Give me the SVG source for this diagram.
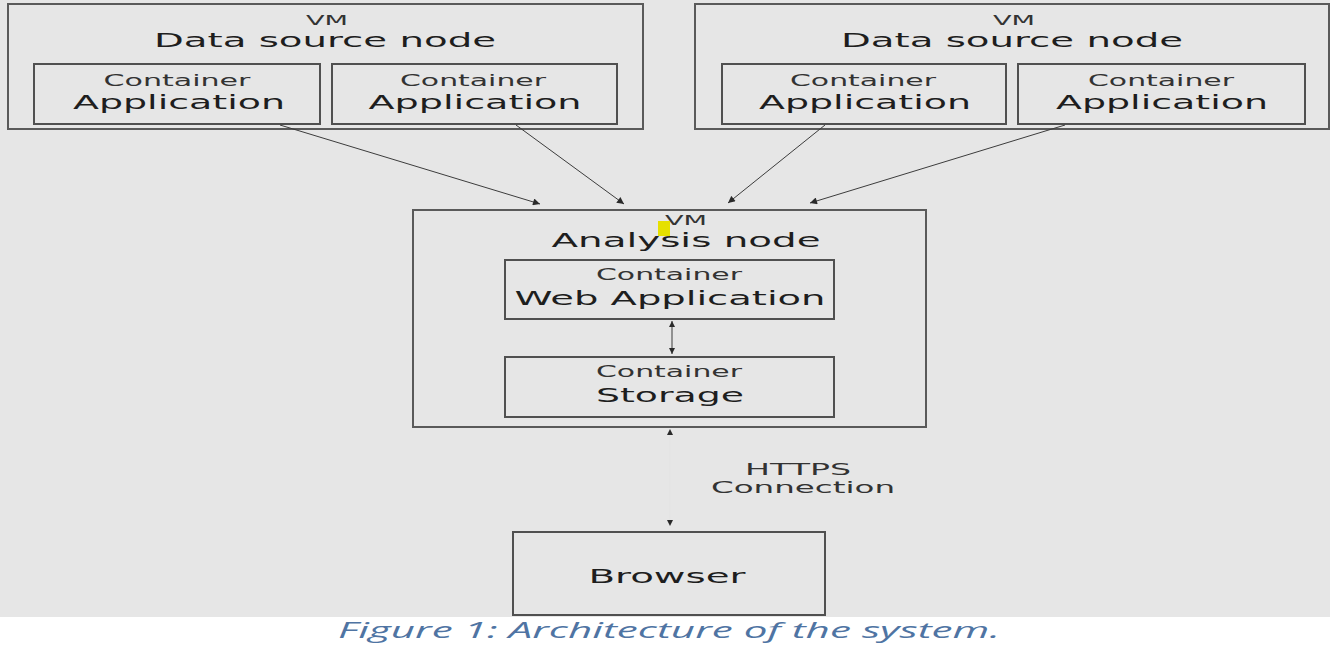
<svg xmlns="http://www.w3.org/2000/svg" width="1336" height="650" viewBox="0 0 1336 650">
<style>
.bg{fill:#e6e6e6}
.vm{fill:#e6e6e6;stroke:#5a5a5a;stroke-width:2}
.ct{fill:#e6e6e6;stroke:#505050;stroke-width:2}
text{font-family:"DejaVu Sans","Liberation Sans",sans-serif;fill:#1e1e1e;text-anchor:middle}
.s{font-size:15px;fill:#333}
.v{font-size:14px;fill:#333}
.m{font-size:20px}
.l{font-size:20px}
.conn{stroke:#3c3c3c;stroke-width:1;fill:none}
.cap{font-family:"Open Sans","Liberation Sans",sans-serif;font-style:italic;font-size:22px;fill:#4f74a3}
</style>
<defs>
<marker id="ah" viewBox="0 0 10 10" refX="10" refY="5" markerWidth="9" markerHeight="7" orient="auto" markerUnits="userSpaceOnUse">
<path d="M0,0 L10,5 L0,10 Z" fill="#2a2a2a"/>
</marker>
<marker id="ahs" viewBox="0 0 10 10" refX="10" refY="5" markerWidth="7" markerHeight="6" orient="auto-start-reverse" markerUnits="userSpaceOnUse">
<path d="M0,0 L10,5 L0,10 Z" fill="#2a2a2a"/>
</marker>
</defs>
<rect class="bg" x="0" y="0" width="1330" height="617"/>

<g id="ds1">
<rect class="vm" x="8" y="4" width="635" height="125"/>
<text class="v" x="327" y="25" textLength="42" lengthAdjust="spacingAndGlyphs">VM</text>
<text class="m" x="325" y="47" textLength="342" lengthAdjust="spacingAndGlyphs">Data source node</text>
</g>
<g id="ds1app1">
<rect class="ct" x="34" y="64" width="286" height="60"/>
<text class="s" x="177" y="86" textLength="147" lengthAdjust="spacingAndGlyphs">Container</text>
<text class="l" x="179" y="109" textLength="212" lengthAdjust="spacingAndGlyphs">Application</text>
</g>
<g id="ds1app2">
<rect class="ct" x="332" y="64" width="285" height="60"/>
<text class="s" x="473" y="86" textLength="146" lengthAdjust="spacingAndGlyphs">Container</text>
<text class="l" x="475" y="109" textLength="213" lengthAdjust="spacingAndGlyphs">Application</text>
</g>

<g id="ds2">
<rect class="vm" x="695" y="4" width="634" height="125"/>
<text class="v" x="1014" y="25" textLength="42" lengthAdjust="spacingAndGlyphs">VM</text>
<text class="m" x="1012" y="47" textLength="342" lengthAdjust="spacingAndGlyphs">Data source node</text>
</g>
<g id="ds2app1">
<rect class="ct" x="722" y="64" width="284" height="60"/>
<text class="s" x="863" y="86" textLength="146" lengthAdjust="spacingAndGlyphs">Container</text>
<text class="l" x="865" y="109" textLength="212" lengthAdjust="spacingAndGlyphs">Application</text>
</g>
<g id="ds2app2">
<rect class="ct" x="1018" y="64" width="287" height="60"/>
<text class="s" x="1161" y="86" textLength="146" lengthAdjust="spacingAndGlyphs">Container</text>
<text class="l" x="1162" y="109" textLength="212" lengthAdjust="spacingAndGlyphs">Application</text>
</g>

<g id="analysis">
<rect class="vm" x="413" y="210" width="513" height="217"/>
<text class="v" x="686" y="225" textLength="42" lengthAdjust="spacingAndGlyphs">VM</text>
<text class="m" x="686" y="247" textLength="269" lengthAdjust="spacingAndGlyphs">Analysis node</text>
<rect x="658" y="221" width="12" height="15" fill="#e6e000"/>
</g>
<g id="webapp">
<rect class="ct" x="505" y="260" width="329" height="59"/>
<text class="s" x="669" y="280" textLength="146" lengthAdjust="spacingAndGlyphs">Container</text>
<text class="l" x="670" y="305" textLength="311" lengthAdjust="spacingAndGlyphs">Web Application</text>
</g>
<g id="storage">
<rect class="ct" x="505" y="357" width="329" height="60"/>
<text class="s" x="669" y="377" textLength="146" lengthAdjust="spacingAndGlyphs">Container</text>
<text class="l" x="670" y="402" textLength="148" lengthAdjust="spacingAndGlyphs">Storage</text>
</g>

<g id="browser">
<rect class="ct" x="513" y="532" width="312" height="83"/>
<text class="l" x="667" y="583" textLength="157" lengthAdjust="spacingAndGlyphs">Browser</text>
</g>

<g id="connectors">
<line class="conn" x1="280" y1="125" x2="540" y2="204" marker-end="url(#ah)"/>
<line class="conn" x1="516" y1="125" x2="624" y2="204" marker-end="url(#ah)"/>
<line class="conn" x1="825" y1="125" x2="728" y2="203" marker-end="url(#ah)"/>
<line class="conn" x1="1065" y1="125" x2="810" y2="203" marker-end="url(#ah)"/>
<line class="conn" x1="672" y1="321" x2="672" y2="354" stroke="#777" marker-start="url(#ahs)" marker-end="url(#ahs)"/>
<line x1="670" y1="429" x2="670" y2="526" stroke="#e3e3e3" stroke-width="1" marker-start="url(#ahs)" marker-end="url(#ahs)"/>
<text class="s" x="798" y="475" textLength="106" lengthAdjust="spacingAndGlyphs">HTTPS</text>
<text class="s" x="803" y="493" textLength="184" lengthAdjust="spacingAndGlyphs">Connection</text>
</g>

<text class="cap" x="669" y="638" textLength="662" lengthAdjust="spacingAndGlyphs">Figure 1: Architecture of the system.</text>
</svg>
